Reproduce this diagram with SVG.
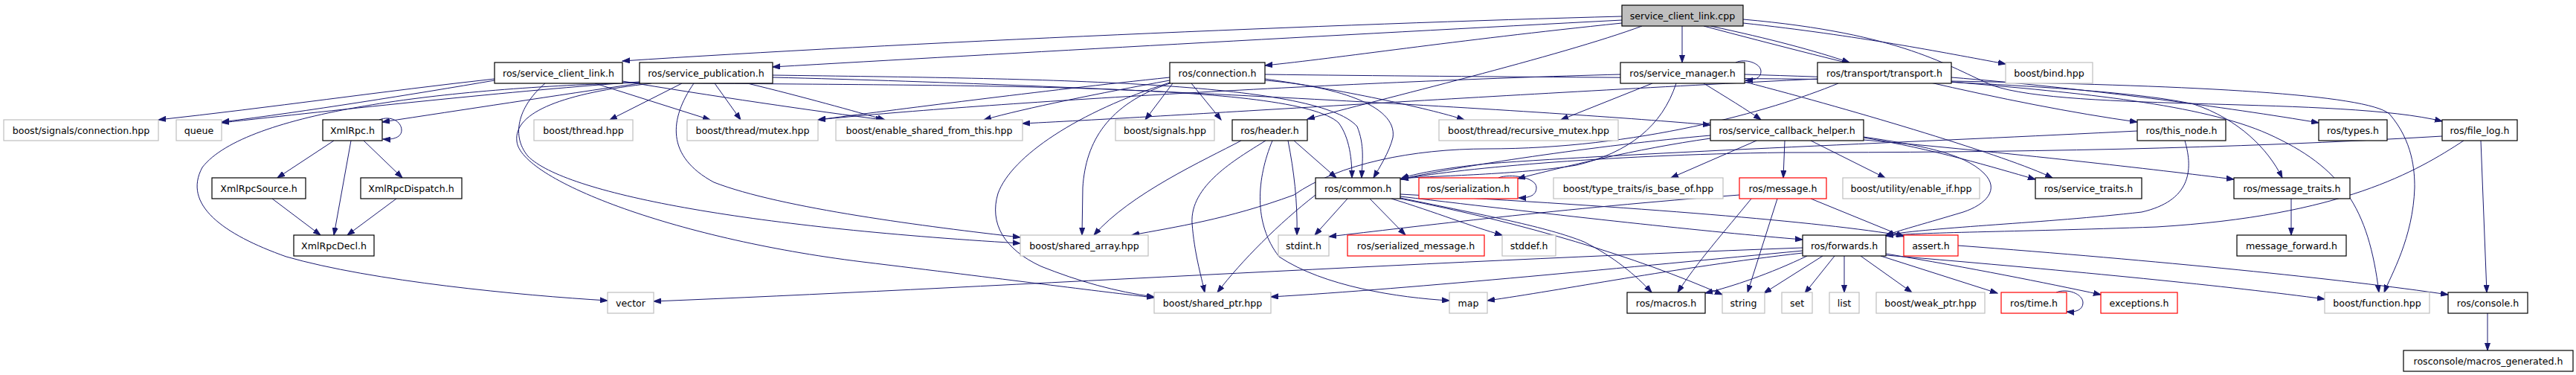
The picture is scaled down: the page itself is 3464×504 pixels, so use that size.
<svg xmlns="http://www.w3.org/2000/svg" width="3464" height="504" viewBox="0 0 3464 504">
<style>
rect{fill:#fff;stroke-width:1.2}
.b rect{stroke:#000}
.g rect{stroke:#bfbfbf}
.r rect{stroke:#ff0000}
.root rect{fill:#bfbfbf;stroke:#000}
text{font-family:"DejaVu Sans","Liberation Sans",sans-serif;font-size:12.6px;fill:#000;text-anchor:middle}
#edges path{fill:none;stroke:#191970;stroke-width:1;marker-end:url(#a)}
</style>
<defs>
<marker id="a" markerUnits="userSpaceOnUse" markerWidth="11" markerHeight="8" refX="10" refY="4" orient="auto">
<path d="M0,0.5 L10,4 L0,7.5 z" fill="#191970" stroke="#191970" stroke-width="1"/>
</marker>
</defs>
<rect x="0" y="0" width="3464" height="504" style="fill:#fff;stroke:none"/>
<g id="edges">
<path d="M2181,22 C1800,32 1200,58 837,82"/>
<path d="M2181,27 C1800,47 1350,72 1039,90"/>
<path d="M2181,31 C1950,55 1800,78 1701,88"/>
<path d="M2208,35 C2100,75 1850,135 1758,160"/>
<path d="M2262,35 L2262,84"/>
<path d="M2300,35 C2380,52 2440,68 2487,84"/>
<path d="M2344,31 C2500,48 2610,70 2697,86"/>
<path d="M2291,35 C2480,85 2700,140 2874,164"/>
<path d="M2344,26 C2560,45 2620,90 2680,115 C2780,150 3150,130 3284,163"/>
<path d="M665,106 C520,122 360,145 213,161"/>
<path d="M665,108 C560,126 410,150 298,164"/>
<path d="M800,112 L955,161"/>
<path d="M837,109 C950,128 1100,150 1188,161"/>
<path d="M733,112 C700,140 685,180 710,210 C760,260 1000,305 1372,327"/>
<path d="M837,111 C1300,116 1740,110 1800,165 C1815,185 1818,215 1818,239"/>
<path d="M860,110 C700,121 450,148 298,165"/>
<path d="M860,112 C750,128 620,148 514,164"/>
<path d="M860,111 C600,118 330,150 272,225 C245,275 300,315 385,345 C500,378 700,397 817,404"/>
<path d="M917,112 L820,161"/>
<path d="M961,112 L996,161"/>
<path d="M1005,112 C1080,130 1150,150 1190,161"/>
<path d="M933,112 C900,160 895,210 960,245 C1050,280 1250,305 1372,319"/>
<path d="M876,112 C760,125 690,150 695,190 C700,240 900,320 1160,352 C1350,375 1480,392 1552,400"/>
<path d="M1039,101 C1400,106 1770,108 1825,170 C1835,195 1832,215 1831,239"/>
<path d="M1039,104 C1500,115 2100,150 2300,168"/>
<path d="M1573,108 C1480,125 1380,145 1323,161"/>
<path d="M1577,112 L1540,161"/>
<path d="M1602,112 L1642,161"/>
<path d="M1573,104 C1400,122 1200,148 1100,161"/>
<path d="M1701,106 C1800,120 1920,145 1969,161"/>
<path d="M1573,112 C1490,140 1460,190 1456,252 L1455,316"/>
<path d="M1573,111 C1450,150 1360,210 1342,260 C1330,300 1350,335 1400,358 C1450,378 1500,392 1552,399"/>
<path d="M1701,108 C1790,115 1880,140 1873,185 C1868,205 1855,225 1847,239"/>
<path d="M1701,100 C2300,108 3150,100 3213,153 C3245,190 3247,230 3247,252 C3245,320 3215,370 3206,393"/>
<path d="M2334,84 C2347,78 2368,85 2368,96 C2368,104 2361,108 2347,108"/>
<path d="M2222,112 L2099,161"/>
<path d="M2254,112 C2235,170 2190,205 2120,222 C2040,235 1930,236 1884,240"/>
<path d="M2179,100 C1800,110 1300,140 1100,161"/>
<path d="M2291,112 C2320,130 2350,148 2368,161"/>
<path d="M2346,110 C2500,150 2700,210 2760,239"/>
<path d="M2346,100 C2600,108 2850,118 2950,140 C3010,160 3050,200 3069,239"/>
<path d="M2444,106 C2000,128 1600,155 1375,166"/>
<path d="M2472,112 C2380,150 2200,200 2000,200 C1900,200 1800,220 1740,262 C1650,295 1580,305 1522,316"/>
<path d="M2624,104 C2800,118 3000,145 3118,165"/>
<path d="M2624,110 C2800,125 2960,140 3050,180 C3150,225 3185,280 3199,393"/>
<path d="M1740,189 L1797,239"/>
<path d="M1669,189 C1620,215 1520,260 1471,316"/>
<path d="M1702,189 C1660,215 1600,250 1603,300 C1606,340 1615,370 1620,393"/>
<path d="M1711,189 C1690,240 1685,300 1720,345 C1780,385 1880,400 1949,404"/>
<path d="M1732,189 C1740,230 1745,270 1744,316"/>
<path d="M510,161 C525,155 540,163 540,175 C540,184 530,188 515,187"/>
<path d="M449,189 L373,239"/>
<path d="M472,189 L449,316"/>
<path d="M489,189 L541,239"/>
<path d="M366,267 L431,316"/>
<path d="M533,267 L467,316"/>
<path d="M2300,182 C2150,195 1950,225 1884,241"/>
<path d="M2400,189 L2398,239"/>
<path d="M2300,186 C2200,200 2100,225 2041,240"/>
<path d="M2362,189 L2247,239"/>
<path d="M2435,189 L2535,239"/>
<path d="M2506,185 C2600,200 2680,225 2737,241"/>
<path d="M2506,188 C2700,205 2900,228 3004,241"/>
<path d="M2506,184 C2580,195 2640,205 2668,233 C2690,255 2670,275 2640,285 C2590,300 2560,308 2536,316"/>
<path d="M2015,239 C2030,233 2066,238 2066,252 C2066,262 2058,266 2042,266"/>
<path d="M1812,267 L1768,316"/>
<path d="M1842,267 L1890,316"/>
<path d="M1871,267 C1930,285 1980,305 2020,316"/>
<path d="M1883,264 C2100,290 2300,312 2424,322"/>
<path d="M1883,261 C2200,278 2450,298 2560,317"/>
<path d="M1883,266 C2000,290 2080,305 2130,325 C2170,345 2200,370 2221,393"/>
<path d="M1883,267 C2050,300 2200,345 2316,396"/>
<path d="M1769,262 C1720,300 1670,350 1637,393"/>
<path d="M2339,262 C2100,280 1900,305 1787,318"/>
<path d="M2355,267 C2320,310 2280,355 2256,393"/>
<path d="M2390,267 L2350,393"/>
<path d="M2435,267 L2560,318"/>
<path d="M2424,333 C1900,352 1300,388 879,405"/>
<path d="M2424,337 C2200,358 1900,388 1709,399"/>
<path d="M2424,340 C2250,360 2100,390 2000,404"/>
<path d="M2430,344 C2380,368 2330,385 2293,394"/>
<path d="M2451,344 L2372,394"/>
<path d="M2467,344 L2427,394"/>
<path d="M2480,344 L2480,393"/>
<path d="M2502,344 L2571,393"/>
<path d="M2529,344 L2686,394"/>
<path d="M2536,341 C2650,360 2750,380 2825,396"/>
<path d="M2536,343 C2800,365 3000,385 3126,402"/>
<path d="M2765,393 C2780,387 2801,395 2801,407 C2801,416 2792,420 2779,419"/>
<path d="M2874,176 C2600,190 2200,205 2000,220 C1940,226 1900,234 1884,240"/>
<path d="M2938,189 C2950,230 2945,270 2880,285 C2750,300 2600,305 2536,316"/>
<path d="M3284,183 C3000,200 2700,205 2400,205 C2150,208 1950,228 1884,241"/>
<path d="M3313,189 C3250,230 3150,290 2900,305 C2700,312 2580,312 2536,317"/>
<path d="M3336,189 L3344,393"/>
<path d="M2633,330 C2900,350 3150,375 3292,396"/>
<path d="M3345,421 L3345,471"/>
<path d="M3081,267 L3081,316"/>
</g>
<g id="n_cpp" class="root"><rect x="2181" y="7" width="163" height="28"/><text x="2262.5" y="25.5">service_client_link.cpp</text></g>
<g id="n_scl" class="b"><rect x="665" y="84" width="172" height="28"/><text x="751" y="102.5">ros/service_client_link.h</text></g>
<g id="n_sp" class="b"><rect x="860" y="84" width="179" height="28"/><text x="949.5" y="102.5">ros/service_publication.h</text></g>
<g id="n_conn" class="b"><rect x="1573" y="84" width="128" height="28"/><text x="1637" y="102.5">ros/connection.h</text></g>
<g id="n_sm" class="b"><rect x="2179" y="84" width="167" height="28"/><text x="2262.5" y="102.5">ros/service_manager.h</text></g>
<g id="n_tr" class="b"><rect x="2444" y="84" width="180" height="28"/><text x="2534" y="102.5">ros/transport/transport.h</text></g>
<g id="n_bind" class="g"><rect x="2697" y="84" width="117" height="28"/><text x="2755.5" y="102.5">boost/bind.hpp</text></g>
<g id="n_sigconn" class="g"><rect x="5" y="161" width="208" height="28"/><text x="109" y="179.5">boost/signals/connection.hpp</text></g>
<g id="n_queue" class="g"><rect x="237" y="161" width="61" height="28"/><text x="267.5" y="179.5">queue</text></g>
<g id="n_xmlrpc" class="b"><rect x="434" y="161" width="80" height="28"/><text x="474" y="179.5">XmlRpc.h</text></g>
<g id="n_thread" class="g"><rect x="718" y="161" width="133" height="28"/><text x="784.5" y="179.5">boost/thread.hpp</text></g>
<g id="n_mutex" class="g"><rect x="924" y="161" width="176" height="28"/><text x="1012" y="179.5">boost/thread/mutex.hpp</text></g>
<g id="n_esft" class="g"><rect x="1124" y="161" width="251" height="28"/><text x="1249.5" y="179.5">boost/enable_shared_from_this.hpp</text></g>
<g id="n_signals" class="g"><rect x="1500" y="161" width="133" height="28"/><text x="1566.5" y="179.5">boost/signals.hpp</text></g>
<g id="n_header" class="b"><rect x="1657" y="161" width="101" height="28"/><text x="1707.5" y="179.5">ros/header.h</text></g>
<g id="n_rmutex" class="g"><rect x="1935" y="161" width="241" height="28"/><text x="2055.5" y="179.5">boost/thread/recursive_mutex.hpp</text></g>
<g id="n_sch" class="b"><rect x="2300" y="161" width="206" height="28"/><text x="2403" y="179.5">ros/service_callback_helper.h</text></g>
<g id="n_thisnode" class="b"><rect x="2874" y="161" width="119" height="28"/><text x="2933.5" y="179.5">ros/this_node.h</text></g>
<g id="n_types" class="b"><rect x="3118" y="161" width="92" height="28"/><text x="3164" y="179.5">ros/types.h</text></g>
<g id="n_filelog" class="b"><rect x="3284" y="161" width="101" height="28"/><text x="3334.5" y="179.5">ros/file_log.h</text></g>
<g id="n_xsrc" class="b"><rect x="285" y="239" width="126" height="28"/><text x="348" y="257.5">XmlRpcSource.h</text></g>
<g id="n_xdisp" class="b"><rect x="485" y="239" width="136" height="28"/><text x="553" y="257.5">XmlRpcDispatch.h</text></g>
<g id="n_common" class="b"><rect x="1769" y="239" width="114" height="28"/><text x="1826" y="257.5">ros/common.h</text></g>
<g id="n_ser" class="r"><rect x="1908" y="239" width="133" height="28"/><text x="1974.5" y="257.5">ros/serialization.h</text></g>
<g id="n_isbase" class="g"><rect x="2089" y="239" width="228" height="28"/><text x="2203" y="257.5">boost/type_traits/is_base_of.hpp</text></g>
<g id="n_msg" class="r"><rect x="2339" y="239" width="117" height="28"/><text x="2397.5" y="257.5">ros/message.h</text></g>
<g id="n_enableif" class="g"><rect x="2478" y="239" width="184" height="28"/><text x="2570" y="257.5">boost/utility/enable_if.hpp</text></g>
<g id="n_strait" class="b"><rect x="2737" y="239" width="143" height="28"/><text x="2808.5" y="257.5">ros/service_traits.h</text></g>
<g id="n_mtrait" class="b"><rect x="3004" y="239" width="156" height="28"/><text x="3082" y="257.5">ros/message_traits.h</text></g>
<g id="n_xdecl" class="b"><rect x="395" y="316" width="108" height="28"/><text x="449" y="334.5">XmlRpcDecl.h</text></g>
<g id="n_sarr" class="g"><rect x="1372" y="316" width="172" height="28"/><text x="1458" y="334.5">boost/shared_array.hpp</text></g>
<g id="n_stdint" class="g"><rect x="1719" y="316" width="68" height="28"/><text x="1753" y="334.5">stdint.h</text></g>
<g id="n_smsg" class="r"><rect x="1812" y="316" width="184" height="28"/><text x="1904" y="334.5">ros/serialized_message.h</text></g>
<g id="n_stddef" class="g"><rect x="2020" y="316" width="72" height="28"/><text x="2056" y="334.5">stddef.h</text></g>
<g id="n_fwd" class="b"><rect x="2424" y="316" width="112" height="28"/><text x="2480" y="334.5">ros/forwards.h</text></g>
<g id="n_assert" class="r"><rect x="2560" y="316" width="73" height="28"/><text x="2596.5" y="334.5">assert.h</text></g>
<g id="n_mfwd" class="b"><rect x="3008" y="316" width="147" height="28"/><text x="3081.5" y="334.5">message_forward.h</text></g>
<g id="n_vector" class="g"><rect x="817" y="393" width="62" height="28"/><text x="848" y="411.5">vector</text></g>
<g id="n_sptr" class="g"><rect x="1552" y="393" width="157" height="28"/><text x="1630.5" y="411.5">boost/shared_ptr.hpp</text></g>
<g id="n_map" class="g"><rect x="1949" y="393" width="51" height="28"/><text x="1974.5" y="411.5">map</text></g>
<g id="n_macros" class="b"><rect x="2188" y="393" width="105" height="28"/><text x="2240.5" y="411.5">ros/macros.h</text></g>
<g id="n_string" class="g"><rect x="2316" y="393" width="57" height="28"/><text x="2344.5" y="411.5">string</text></g>
<g id="n_set" class="g"><rect x="2396" y="393" width="41" height="28"/><text x="2416.5" y="411.5">set</text></g>
<g id="n_list" class="g"><rect x="2460" y="393" width="40" height="28"/><text x="2480" y="411.5">list</text></g>
<g id="n_wptr" class="g"><rect x="2523" y="393" width="146" height="28"/><text x="2596" y="411.5">boost/weak_ptr.hpp</text></g>
<g id="n_time" class="r"><rect x="2691" y="393" width="88" height="28"/><text x="2735" y="411.5">ros/time.h</text></g>
<g id="n_exc" class="r"><rect x="2825" y="393" width="103" height="28"/><text x="2876.5" y="411.5">exceptions.h</text></g>
<g id="n_func" class="g"><rect x="3126" y="393" width="141" height="28"/><text x="3196.5" y="411.5">boost/function.hpp</text></g>
<g id="n_console" class="b"><rect x="3292" y="393" width="107" height="28"/><text x="3345.5" y="411.5">ros/console.h</text></g>
<g id="n_mgen" class="b"><rect x="3232" y="471" width="228" height="28"/><text x="3346" y="489.5">rosconsole/macros_generated.h</text></g>
</svg>
